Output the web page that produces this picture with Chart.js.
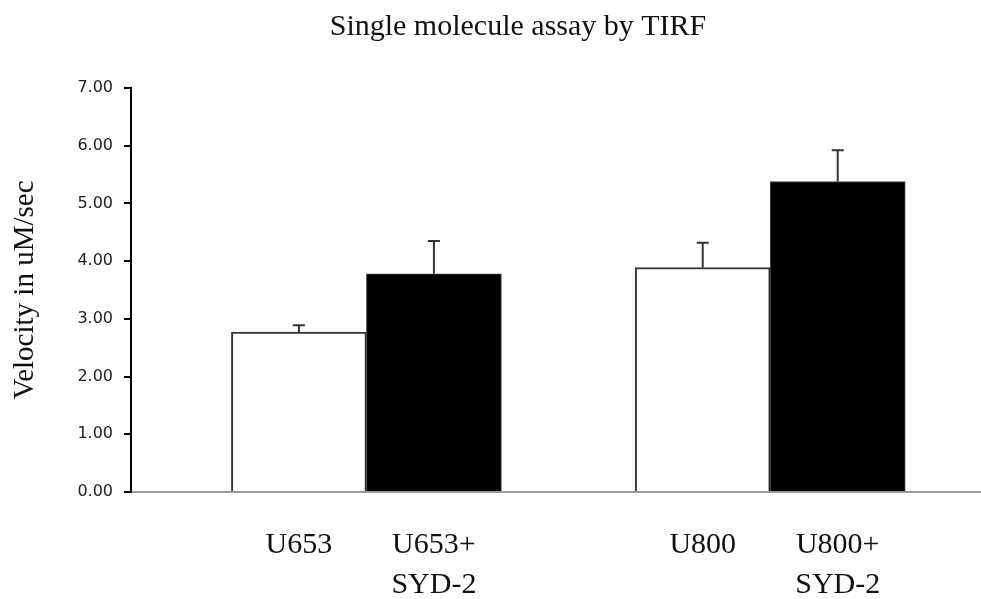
<!DOCTYPE html>
<html lang="en">
<head>
    <meta charset="UTF-8">
    <title>Single molecule assay by TIRF</title>
    <script src="https://cdn.jsdelivr.net/npm/chart.js"></script>
    <style>
        body {
            margin: 0;
            padding: 0;
            background-color: #fff;
        }

        .chart-box {
            width: 981px;
            height: 599px;
        }
    </style>
</head>
<body>
    <div class="chart-box">
        <canvas id="tirfChart"></canvas>
    </div>

    <script>
        // Chart data
        const groups = ['U653', 'U800'];
        const plainValues = [2.77, 3.89];
        const plainErrors = [0.12, 0.43];
        const sydValues = [3.78, 5.38];
        const sydErrors = [0.57, 0.54];
        const plainLabels = ['U653', 'U800'];
        const sydLabels = [['U653+', 'SYD-2'], ['U800+', 'SYD-2']];
        const yMin = 0;
        const yMax = 7;
        const yStep = 1;

        const errors = [plainErrors, sydErrors];
        const barLabels = [plainLabels, sydLabels];

        // Upward error bars
        const errorBars = {
            id: 'errorBars',
            afterDatasetsDraw(chart) {
                const ctx = chart.ctx;
                const y = chart.scales.y;
                ctx.save();
                ctx.strokeStyle = '#333';
                ctx.lineWidth = 2;
                chart.data.datasets.forEach((ds, i) => {
                    chart.getDatasetMeta(i).data.forEach((bar, j) => {
                        const top = y.getPixelForValue(ds.data[j].y + errors[i][j]);
                        ctx.beginPath();
                        ctx.moveTo(bar.x, bar.y);
                        ctx.lineTo(bar.x, top);
                        ctx.moveTo(bar.x - 6, top);
                        ctx.lineTo(bar.x + 6, top);
                        ctx.stroke();
                    });
                });
                ctx.restore();
            }
        };

        // Title and labels under each bar
        const texts = {
            id: 'texts',
            afterDraw(chart) {
                const ctx = chart.ctx;
                const area = chart.chartArea;
                ctx.save();
                ctx.fillStyle = '#111';
                ctx.textAlign = 'center';
                ctx.textBaseline = 'alphabetic';
                ctx.font = '30px "Liberation Serif"';
                ctx.fillText('Single molecule assay by TIRF', 518, 35);

                ctx.font = '30px "Liberation Serif"';
                chart.data.datasets.forEach((ds, i) => {
                    chart.getDatasetMeta(i).data.forEach((bar, j) => {
                        const lines = [].concat(barLabels[i][j]);
                        lines.forEach((line, k) => {
                            ctx.fillText(line, bar.x, area.bottom + 61 + k * 40);
                        });
                    });
                });
                ctx.restore();
            }
        };

        const ctx = document.getElementById('tirfChart').getContext('2d');

        new Chart(ctx, {
            type: 'bar',
            data: {
                datasets: [{
                    label: 'without SYD-2',
                    data: plainValues.map((v, i) => ({ x: i, y: v })),
                    backgroundColor: '#fff',
                    borderColor: '#333',
                    borderWidth: 2
                }, {
                    label: 'with SYD-2',
                    data: sydValues.map((v, i) => ({ x: i, y: v })),
                    backgroundColor: '#000',
                    borderColor: '#444',
                    borderWidth: 1
                }]
            },
            options: {
                responsive: true,
                maintainAspectRatio: false,
                animation: false,
                barThickness: 135,
                layout: {
                    padding: { top: 88, bottom: 107, left: 0, right: 0 }
                },
                plugins: {
                    legend: { display: false },
                    tooltip: { enabled: false }
                },
                scales: {
                    x: {
                        type: 'linear',
                        offset: false,
                        min: -0.583,
                        max: groups.length - 1 + 0.522,
                        afterFit: (scale) => { scale.height = 0; },
                        ticks: { display: false },
                        grid: { display: false },
                        border: { display: true, color: '#999', width: 2 }
                    },
                    y: {
                        min: yMin,
                        max: yMax,
                        afterFit: (scale) => { scale.width = 131; },
                        ticks: {
                            stepSize: yStep,
                            padding: 11,
                            color: '#222',
                            font: { family: 'DejaVu Sans', size: 16 },
                            callback: (v) => v.toFixed(2)
                        },
                        grid: {
                            drawOnChartArea: false,
                            drawTicks: true,
                            tickLength: 7,
                            color: '#000',
                            lineWidth: 2
                        },
                        border: { display: true, color: '#000', width: 2 },
                        title: {
                            display: true,
                            text: 'Velocity in uM/sec',
                            color: '#111',
                            font: { family: 'Liberation Serif', size: 29 },
                            padding: { top: 8, bottom: 0 }
                        }
                    }
                }
            },
            plugins: [errorBars, texts]
        });
    </script>
</body>
</html>
